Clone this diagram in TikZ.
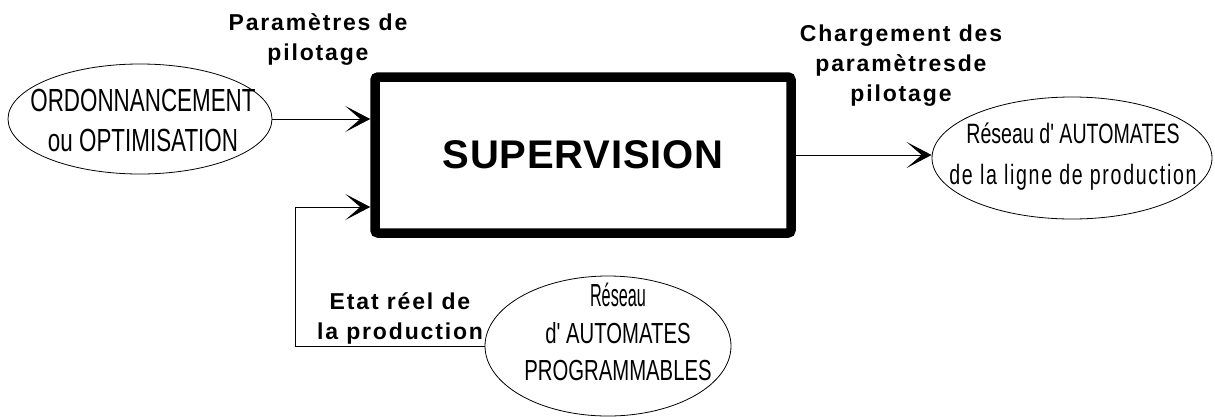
\documentclass[tikz,border=0pt]{standalone}
\usepackage{fontspec}
\setmainfont{Liberation Sans}
\newfontfamily\narrowfont[FakeStretch=0.7]{Liberation Sans}
\newfontfamily\labelfont[LetterSpace=8]{Liberation Sans}
\newfontfamily\boxfont[LetterSpace=2]{Liberation Sans}
\usetikzlibrary{arrows.meta,shapes.geometric}

\begin{document}
\begin{tikzpicture}[
    x=1pt, y=-1pt,
    >={Stealth[length=25pt,width=26pt,inset=15pt]},
    line width=1pt,
    ell/.style={draw, ellipse, line width=0.8pt, inner sep=0pt},
    elltext/.style={font=\narrowfont\fontsize{29}{37}\selectfont, align=center, inner sep=0pt},
    flowlabel/.style={font=\labelfont\bfseries\fontsize{23}{30}\selectfont, align=center, inner sep=0pt}
]
\useasboundingbox (0,0) rectangle (1215,416);

% Supervision block
\node[draw, line width=9.5pt, rounded corners=3pt, minimum width=416pt, minimum height=156pt,
      font=\boxfont\bfseries\fontsize{40}{40}\selectfont] (sup) at (583,155) {SUPERVISION};

% Ellipses
\node[ell, minimum width=264pt, minimum height=110pt] (ordo) at (140,119) {};
\node[elltext, font=\narrowfont\fontsize{32}{40}\selectfont] (ordotext) at (143,120)
    {ORDONNANCEMENT\\ou OPTIMISATION};

\node[ell, minimum width=280pt, minimum height=122pt] (res) at (1072,158) {};
\node[elltext, font=\narrowfont\fontsize{28}{41}\selectfont] (restext) at (1073,157)
    {Réseau d' AUTOMATES\\{\addfontfeature{LetterSpace=6}de la ligne de production}};

\node[ell, minimum width=246pt, minimum height=140pt] (prog) at (608,346) {};
\node[elltext] (progtext) at (618,332)
    {\scalebox{0.8}[1.1]{Réseau}\\d' AUTOMATES\\PROGRAMMABLES};

% Connectors
\draw[->] (ordo.east) -- (ordo.east -| sup.west);
\draw[->] (sup.east) -- (sup.east -| res.west);
\coordinate (fb) at (295,207);
\draw[->] (prog.west) -| (fb) -- (fb -| sup.west);

% Labels
\node[flowlabel] (param) at (318,39) {Paramètres de\\pilotage};
\node[flowlabel] (charg) at (901,66) {Chargement des\\paramètresde\\pilotage};
\node[flowlabel] (etat) at (400,318) {Etat réel de\\la production};

\end{tikzpicture}
\end{document}
